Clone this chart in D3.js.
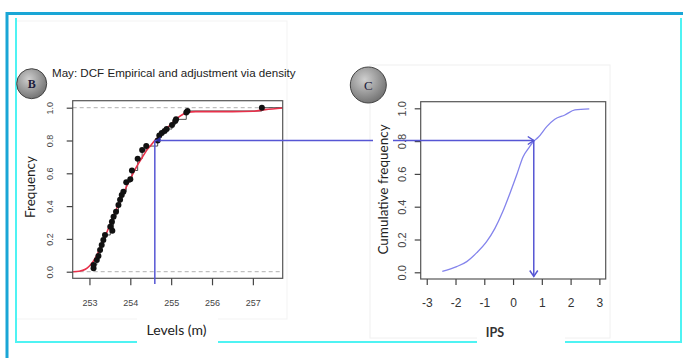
<!DOCTYPE html>
<html>
<head>
<meta charset="utf-8">
<script src="https://cdn.jsdelivr.net/npm/d3@7"></script>
<style>
  body { margin: 0; background: #fff; }
  svg { display: block; }
</style>
</head>
<body>
<div id="canvas"></div>
<script>
"use strict"

/* Configuration variables: drawing */
let svgWidth = 683;
let svgHeight = 358;

/* Panel B data: empirical CDF of May levels and density fit */
let levelTicks = [253, 254, 255, 256, 257];
let freqTicks = [0, 0.2, 0.4, 0.6, 0.8, 1.0];
let freqTickLabels = ["0.0", "0.2", "0.4", "0.6", "0.8", "1.0"];

let empLevels = [253.10, 253.10, 253.18, 253.22, 253.26, 253.30, 253.34, 253.38, 253.56, 253.51,
                 253.55, 253.59, 253.65, 253.71, 253.75, 253.79, 253.83, 253.90, 254.00, 254.04,
                 254.18, 254.29, 254.39, 254.67, 254.71, 254.77, 254.84, 254.89, 255.02, 255.10,
                 255.12, 255.37, 255.40, 257.22];
let empFreq = [0.021, 0.041, 0.071, 0.096, 0.132, 0.163, 0.193, 0.224, 0.250, 0.274,
               0.305, 0.335, 0.366, 0.407, 0.438, 0.468, 0.488, 0.545, 0.563, 0.617,
               0.689, 0.742, 0.766, 0.800, 0.830, 0.845, 0.858, 0.870, 0.895, 0.919,
               0.929, 0.970, 0.980, 1.000];

let fitLevels = [252.60, 252.75, 252.90, 253.00, 253.10, 253.20, 253.30, 253.40, 253.50, 253.60,
                 253.70, 253.80, 253.90, 254.00, 254.10, 254.20, 254.30, 254.40, 254.50, 254.60,
                 254.70, 254.80, 254.90, 255.00, 255.10, 255.20, 255.30, 255.40, 255.60, 256.00,
                 256.50, 257.00, 257.30, 257.73];
let fitFreq = [0.000, 0.003, 0.015, 0.035, 0.065, 0.110, 0.165, 0.225, 0.285, 0.345,
               0.405, 0.460, 0.515, 0.565, 0.615, 0.660, 0.700, 0.740, 0.770, 0.800,
               0.825, 0.850, 0.875, 0.900, 0.925, 0.945, 0.962, 0.972, 0.976, 0.976,
               0.976, 0.978, 0.988, 0.998];

/* Panel C data: cumulative frequency of the IPS */
let ipsTicks = [-3, -2, -1, 0, 1, 2, 3];
let ipsValues = [-2.46, -1.96, -1.61, -1.26, -0.92, -0.63, -0.36, -0.11, 0.125, 0.35,
                 0.56, 0.70, 0.875, 1.17, 1.45, 1.80, 2.15, 2.65];
let ipsCumFreq = [0.005, 0.035, 0.065, 0.120, 0.187, 0.268, 0.369, 0.481, 0.593, 0.705,
                  0.762, 0.796, 0.823, 0.888, 0.933, 0.959, 0.990, 0.996];

/* Reading: level -> frequency -> IPS */
let readLevel = 254.6;
let readFreq = 0.8;
let readIps = 0.72;

let svg = d3.select("#canvas")
    .append("svg")
    .attr("width", svgWidth)
    .attr("height", svgHeight);

/* gradient for the letter badges */
let defs = svg.append("defs");
let grad = defs.append("radialGradient")
    .attr("id", "badge")
    .attr("cx", "40%").attr("cy", "35%").attr("r", "70%");
grad.append("stop").attr("offset", "0%").attr("stop-color", "#cfcfcf");
grad.append("stop").attr("offset", "100%").attr("stop-color", "#6e6e6e");

/* faint screenshot boxes */
svg.append("rect")
    .attr("x", 16).attr("y", 21).attr("width", 271).attr("height", 298)
    .attr("fill", "none").attr("stroke", "#f3f3f3");
svg.append("rect")
    .attr("x", 370).attr("y", 65).attr("width", 240).attr("height", 273)
    .attr("fill", "none").attr("stroke", "#f0f0f0");

/* slide frame: light cyan inner lines */
svg.append("path")
    .attr("d", "M16,18 V342 H681 V18")
    .attr("fill", "none")
    .attr("stroke", "#4ff3f3")
    .attr("stroke-width", 2);

/* slide frame: thick blue top and left */
svg.append("path")
    .attr("d", "M7,358 V13.5 H683")
    .attr("fill", "none")
    .attr("stroke", "#1aa6d6")
    .attr("stroke-width", 3);

/* ---------- Panel B ---------- */
let xB = d3.scaleLinear().domain([252.59, 257.73]).range([72.7, 282.7]);
let yB = d3.scaleLinear().domain([0, 1]).range([271.7, 107.7]);

svg.append("text")
    .attr("x", 52).attr("y", 77)
    .style("font-family", "'Liberation Sans', Arial, sans-serif")
    .style("font-size", "11.6px")
    .style("fill", "#222")
    .text("May: DCF Empirical and adjustment via density");

// dashed reference lines at 0 and 1
svg.selectAll(".refB")
    .data([0, 1])
    .join("line")
    .attr("x1", 72.7).attr("x2", 282.7)
    .attr("y1", d => yB(d)).attr("y2", d => yB(d))
    .attr("stroke", "#b0b0b0")
    .attr("stroke-dasharray", "4,3");

// empirical step line
let stepLine = d3.line()
    .x(d => xB(d[0]))
    .y(d => yB(d[1]))
    .curve(d3.curveStepAfter);
let stepPts = empLevels.map((l, i) => [l, empFreq[i]])
    .sort((a, b) => a[0] - b[0]);
stepPts.push([257.73, 1.0]);
svg.append("path")
    .attr("d", stepLine(stepPts))
    .attr("fill", "none")
    .attr("stroke", "#3a3a3a")
    .attr("stroke-width", 0.9);

// red fitted curve
let fitLine = d3.line()
    .x((d, i) => xB(fitLevels[i]))
    .y(d => yB(d))
    .curve(d3.curveMonotoneX);
svg.append("path")
    .attr("d", fitLine(fitFreq))
    .attr("fill", "none")
    .attr("stroke", "#e8304a")
    .attr("stroke-width", 1.6);

// empirical points
svg.selectAll(".dotB")
    .data(empFreq)
    .join("circle")
    .attr("cx", (d, i) => xB(empLevels[i]))
    .attr("cy", d => yB(d))
    .attr("r", 3)
    .attr("fill", "#111");

// plot box
svg.append("rect")
    .attr("x", 72.7).attr("y", 100.7)
    .attr("width", 210).attr("height", 177.6)
    .attr("fill", "none")
    .attr("stroke", "#555")
    .attr("stroke-width", 1.2);

// axes
let xAxisB = svg.append("g")
    .attr("transform", "translate(0,278.3)")
    .call(d3.axisBottom(xB).tickValues(levelTicks).tickSize(7).tickFormat(d3.format("d")));
xAxisB.select(".domain").remove();
xAxisB.selectAll("line").attr("stroke", "#444").attr("stroke-width", 1.2);
xAxisB.selectAll("text")
    .attr("y", 28).attr("dy", 0)
    .style("font-family", "'Liberation Sans', Arial, sans-serif")
    .style("font-size", "9px")
    .style("fill", "#444");

let yAxisB = svg.append("g")
    .attr("transform", "translate(72.7,0)")
    .call(d3.axisLeft(yB).tickValues(freqTicks).tickSize(6)
        .tickFormat((d, i) => freqTickLabels[i]));
yAxisB.select(".domain").remove();
yAxisB.selectAll("line").attr("stroke", "#444").attr("stroke-width", 1.2);
yAxisB.selectAll("text")
    .attr("x", 0).attr("dy", 0)
    .attr("text-anchor", "middle")
    .attr("transform", "translate(-19.5,0) rotate(-90)")
    .style("font-family", "'Liberation Sans', Arial, sans-serif")
    .style("font-size", "9px")
    .style("fill", "#444");

svg.append("text")
    .attr("transform", "translate(34.5,187) rotate(-90)")
    .attr("text-anchor", "middle")
    .style("font-family", "Lato, sans-serif")
    .style("font-size", "13.5px")
    .style("fill", "#222")
    .text("Frequency");

// x label with white box interrupting the frame line
svg.append("rect")
    .attr("x", 137).attr("y", 318).attr("width", 81).attr("height", 26)
    .attr("fill", "#fff");
svg.append("text")
    .attr("x", 176.5).attr("y", 335)
    .attr("text-anchor", "middle")
    .style("font-family", "Lato, sans-serif")
    .style("font-size", "14px")
    .style("fill", "#222")
    .text("Levels (m)");

// badge B
svg.append("circle")
    .attr("cx", 31.7).attr("cy", 83.7).attr("r", 15)
    .attr("fill", "url(#badge)")
    .attr("stroke", "#444");
svg.append("text")
    .attr("x", 31.7).attr("y", 88)
    .attr("text-anchor", "middle")
    .style("font-family", "'Liberation Serif', serif")
    .style("font-size", "12px")
    .style("font-weight", "bold")
    .style("fill", "#1c1c3c")
    .text("B");

/* ---------- Panel C ---------- */
let xC = d3.scaleLinear().domain([-3.21, 3.22]).range([420.7, 605.7]);
let yC = d3.scaleLinear().domain([0, 1]).range([272.3, 108.3]);

let ipsLine = d3.line()
    .x((d, i) => xC(ipsValues[i]))
    .y(d => yC(d))
    .curve(d3.curveMonotoneX);
svg.append("path")
    .attr("d", ipsLine(ipsCumFreq))
    .attr("fill", "none")
    .attr("stroke", "#8484ec")
    .attr("stroke-width", 1.3);

svg.append("rect")
    .attr("x", 420.7).attr("y", 101.7)
    .attr("width", 185).attr("height", 177.3)
    .attr("fill", "none")
    .attr("stroke", "#555")
    .attr("stroke-width", 1.2);

let xAxisC = svg.append("g")
    .attr("transform", "translate(0,279)")
    .call(d3.axisBottom(xC).tickValues(ipsTicks).tickSize(6).tickFormat(d3.format("d")));
xAxisC.select(".domain").remove();
xAxisC.selectAll("line").attr("stroke", "#444").attr("stroke-width", 1.2);
xAxisC.selectAll("text")
    .attr("y", 27.5).attr("dy", 0)
    .style("font-family", "'Liberation Sans', Arial, sans-serif")
    .style("font-size", "12px")
    .style("fill", "#333")
    .text(d => d < 0 ? "-" + Math.abs(d) : String(d));

let yAxisC = svg.append("g")
    .attr("transform", "translate(420.7,0)")
    .call(d3.axisLeft(yC).tickValues(freqTicks).tickSize(6)
        .tickFormat((d, i) => freqTickLabels[i]));
yAxisC.select(".domain").remove();
yAxisC.selectAll("line").attr("stroke", "#444").attr("stroke-width", 1.2);
yAxisC.selectAll("text")
    .attr("x", 0).attr("dy", 0)
    .attr("text-anchor", "middle")
    .attr("transform", "translate(-15,0) rotate(-90)")
    .style("font-family", "'Liberation Sans', Arial, sans-serif")
    .style("font-size", "11px")
    .style("fill", "#444");

/* ---------- reading arrows ---------- */
let arrowColor = "#5656d4";
let yRead = yB(readFreq);

// vertical in B
svg.append("line")
    .attr("x1", xB(readLevel)).attr("x2", xB(readLevel))
    .attr("y1", yRead).attr("y2", 284)
    .attr("stroke", arrowColor).attr("stroke-width", 1.5);

// horizontal from B to C
svg.append("line")
    .attr("x1", xB(readLevel)).attr("x2", xC(readIps))
    .attr("y1", yRead).attr("y2", yRead)
    .attr("stroke", arrowColor).attr("stroke-width", 1.5);

// vertical in C
svg.append("line")
    .attr("x1", xC(readIps)).attr("x2", xC(readIps))
    .attr("y1", yC(readFreq)).attr("y2", 276.5)
    .attr("stroke", arrowColor).attr("stroke-width", 1.5);

// arrow heads
let hx = xC(readIps), hy = yRead;
svg.append("path")
    .attr("d", `M${hx - 6},${hy - 4} L${hx},${hy} L${hx - 6},${hy + 4}`)
    .attr("fill", "none").attr("stroke", arrowColor).attr("stroke-width", 1.5);
svg.append("path")
    .attr("d", `M${hx - 4},270.5 L${hx},276.5 L${hx + 4},270.5`)
    .attr("fill", "none").attr("stroke", arrowColor).attr("stroke-width", 1.5);
let bx = xB(readLevel);
svg.append("path")
    .attr("d", `M${bx + 1},${yRead - 0.5} L${bx + 6},${yRead - 4} L${bx + 5},${yRead + 2} Z`)
    .attr("fill", "#2a2a9a");

// label for C y axis, white box interrupts the arrow
svg.append("rect")
    .attr("x", 373).attr("y", 118).attr("width", 20).attr("height", 142)
    .attr("fill", "#fff");
svg.append("text")
    .attr("transform", "translate(388,189.5) rotate(-90)")
    .attr("text-anchor", "middle")
    .style("font-family", "Lato, sans-serif")
    .style("font-size", "13.5px")
    .style("fill", "#222")
    .text("Cumulative frequency");

svg.append("rect")
    .attr("x", 477).attr("y", 318).attr("width", 88).attr("height", 26)
    .attr("fill", "#fff");
svg.append("text")
    .attr("x", 495).attr("y", 336.5)
    .attr("text-anchor", "middle")
    .style("font-family", "Lato, sans-serif")
    .style("font-size", "12.5px")
    .style("font-weight", "bold")
    .style("fill", "#333")
    .text("IPS");

// badge C
svg.append("circle")
    .attr("cx", 368.3).attr("cy", 85).attr("r", 18)
    .attr("fill", "url(#badge)")
    .attr("stroke", "#444");
svg.append("text")
    .attr("x", 368.3).attr("y", 89.5)
    .attr("text-anchor", "middle")
    .style("font-family", "'Liberation Serif', serif")
    .style("font-size", "13px")
    .style("fill", "#1c1c3c")
    .text("C");
</script>
</body>
</html>
